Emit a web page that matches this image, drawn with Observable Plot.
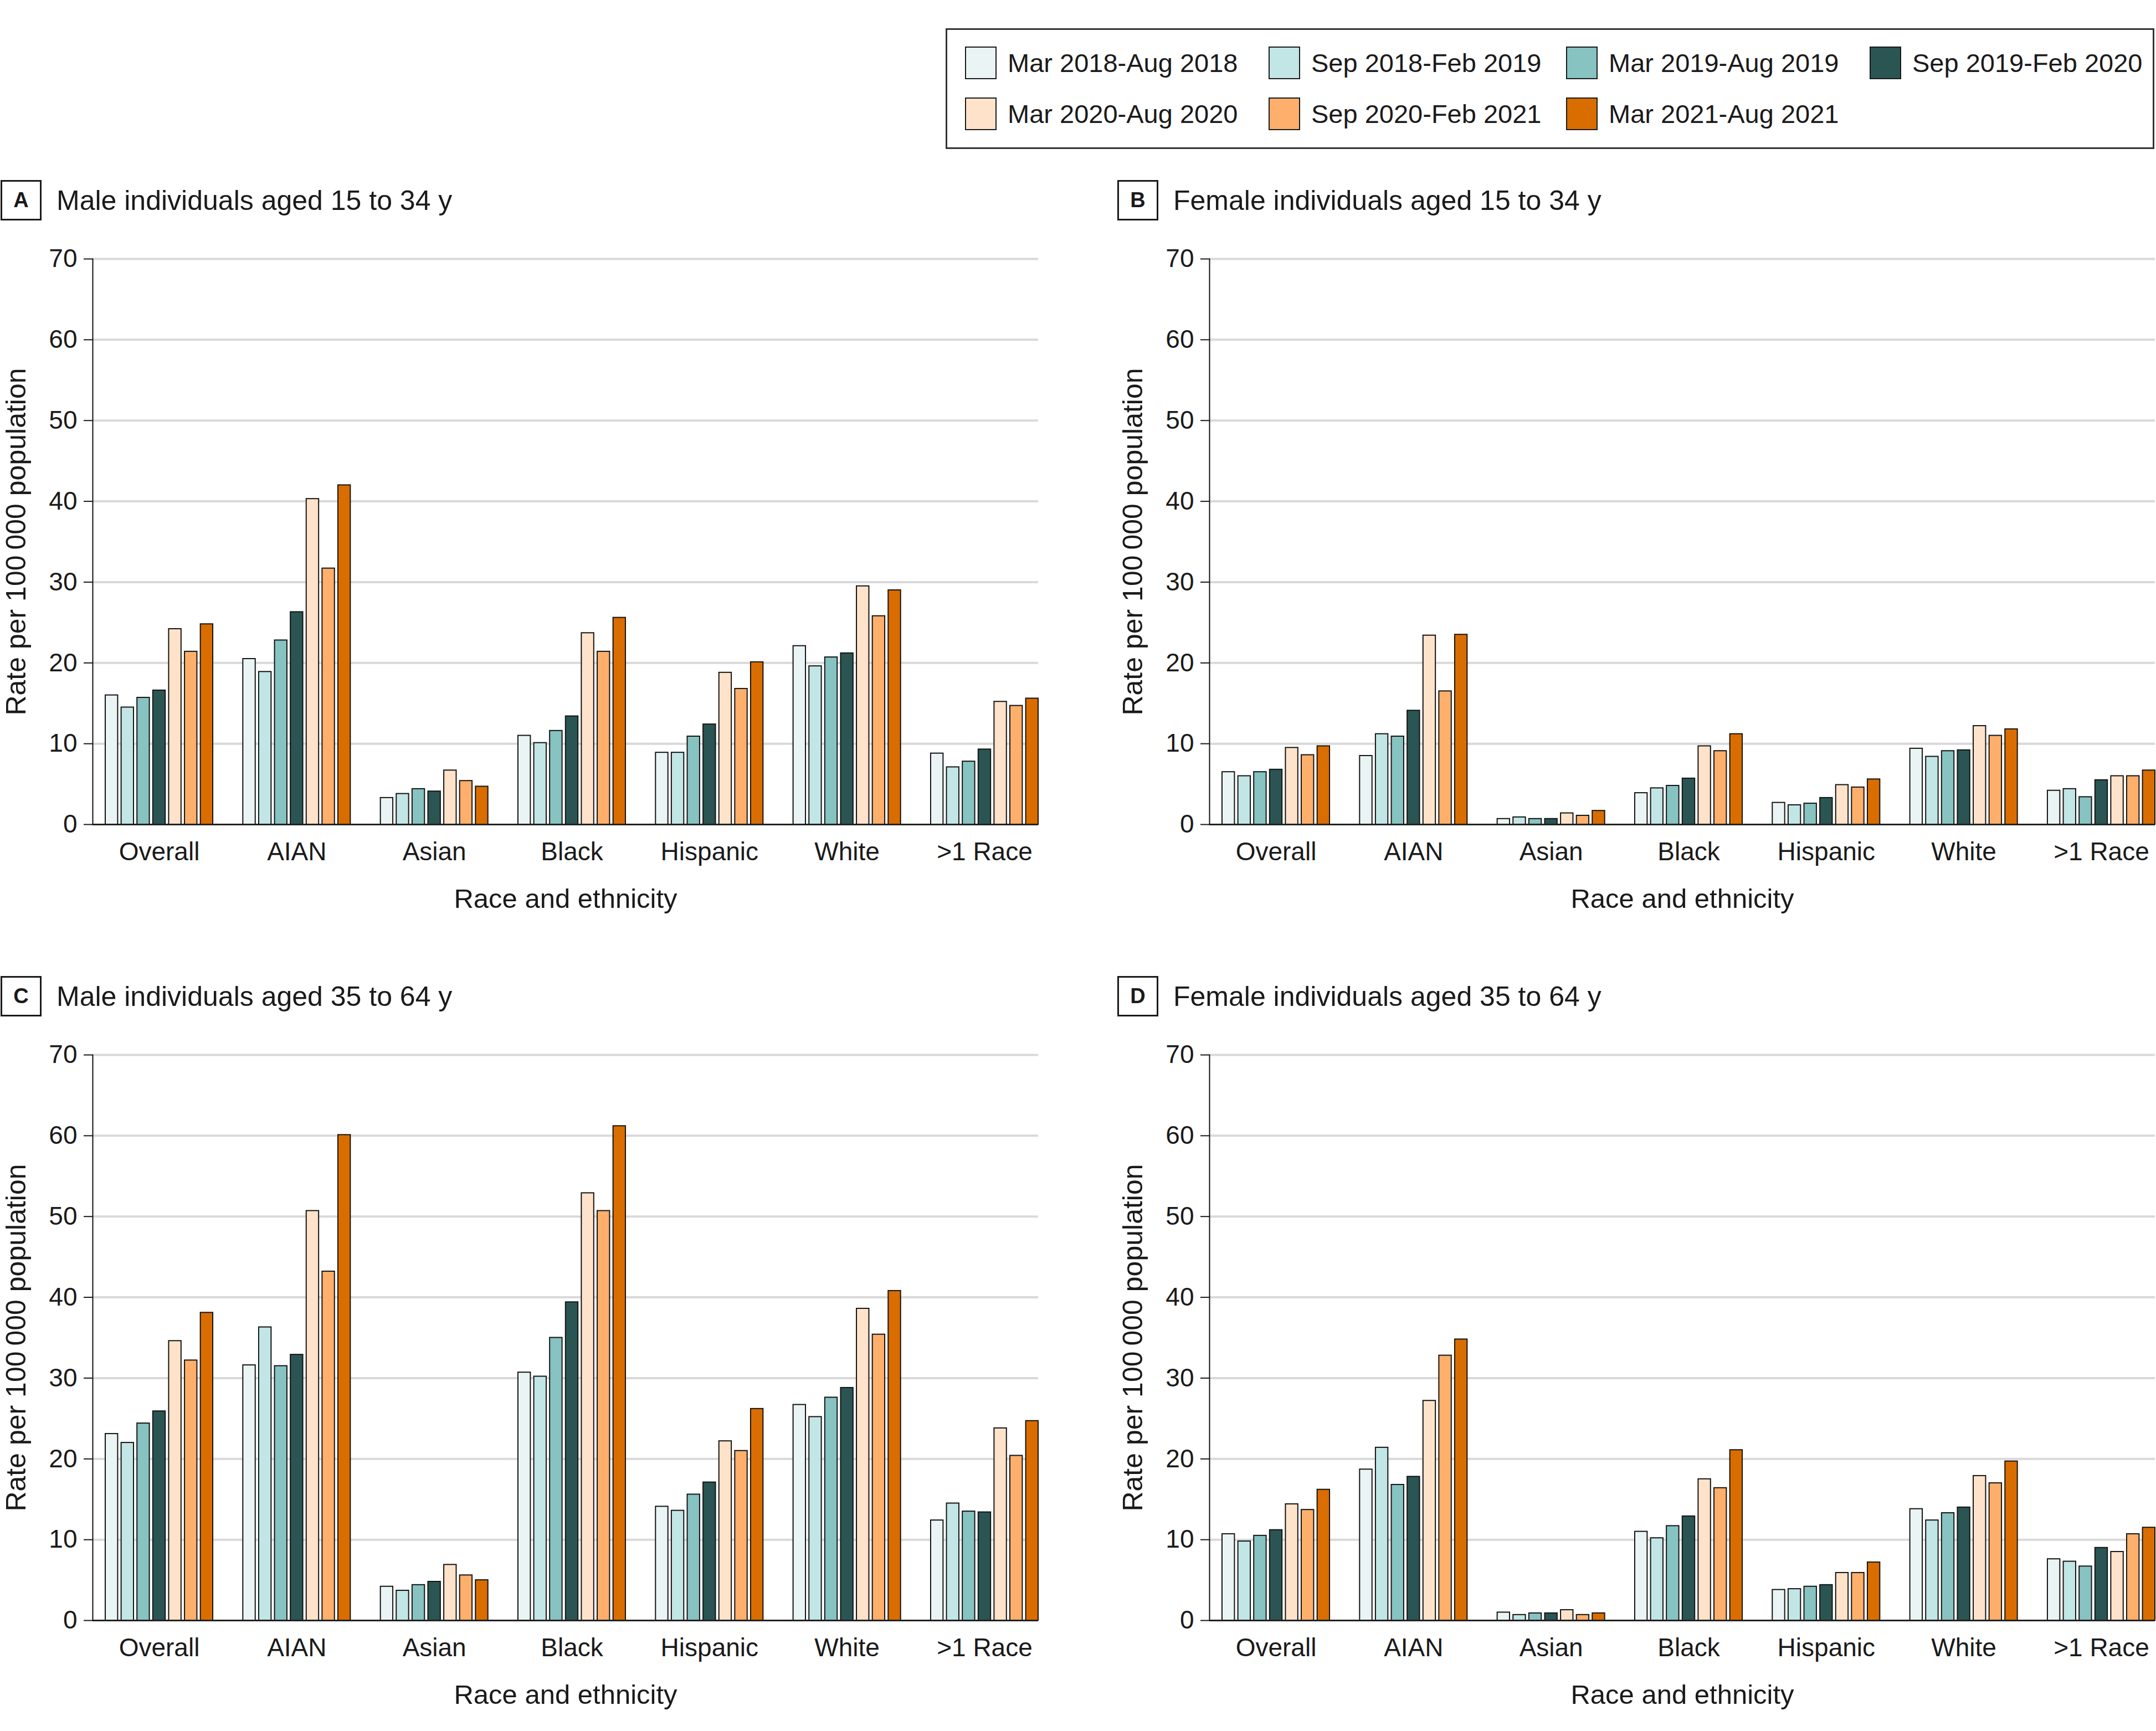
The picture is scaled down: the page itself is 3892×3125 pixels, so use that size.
<!DOCTYPE html>
<html><head><meta charset="utf-8">
<script src="https://cdn.jsdelivr.net/npm/d3@7"></script>
<script src="https://cdn.jsdelivr.net/npm/@observablehq/plot@0.6"></script>
<style>
body{margin:0;background:#fff;}
#root{position:relative;width:3892px;height:3125px;font-family:"Liberation Sans",Arial,sans-serif;color:#1a1a1a;background:#fff;overflow:hidden;}
.abs{position:absolute;}
.lbox{position:absolute;box-sizing:border-box;width:74px;height:73px;border:3px solid #1a1a1a;font-weight:bold;font-size:38px;display:flex;align-items:center;justify-content:center;}
.ptitle{position:absolute;font-size:50px;line-height:50px;white-space:nowrap;}
.legend{position:absolute;left:1707px;top:51px;width:2182px;height:218px;box-sizing:border-box;border:3px solid #333;}
.sw{position:absolute;width:57px;height:59px;box-sizing:border-box;border:2px solid #1a1a1a;}
.lt{position:absolute;font-size:47px;line-height:47px;white-space:nowrap;}
</style></head><body><div id="root"></div>
<script>
// ---- data ----
const groups = ["Overall", "AIAN", "Asian", "Black", "Hispanic", "White", ">1 Race"];
const periods = ["Mar 2018-Aug 2018", "Sep 2018-Feb 2019", "Mar 2019-Aug 2019", "Sep 2019-Feb 2020",
                 "Mar 2020-Aug 2020", "Sep 2020-Feb 2021", "Mar 2021-Aug 2021"];
const periodColors = ["#eaf4f4", "#c2e6e5", "#86c3c1", "#2a5553", "#fee3ca", "#fdaf6b", "#d96d00"];
const yTicks = [0, 10, 20, 30, 40, 50, 60, 70];
const yLabel = "Rate per 100\u2009000 population";
const xLabel = "Race and ethnicity";

const panelLetters = ["A", "B", "C", "D"];
const panelTitles = ["Male individuals aged 15 to 34 y", "Female individuals aged 15 to 34 y",
                     "Male individuals aged 35 to 64 y", "Female individuals aged 35 to 64 y"];

// values[group][period]
const maleYoung = [
  [16.0, 14.5, 15.7, 16.6, 24.2, 21.4, 24.8],
  [20.5, 18.9, 22.8, 26.3, 40.3, 31.7, 42.0],
  [3.3, 3.8, 4.4, 4.1, 6.7, 5.4, 4.7],
  [11.0, 10.1, 11.6, 13.4, 23.7, 21.4, 25.6],
  [8.9, 8.9, 10.9, 12.4, 18.8, 16.8, 20.1],
  [22.1, 19.6, 20.7, 21.2, 29.5, 25.8, 29.0],
  [8.8, 7.1, 7.8, 9.3, 15.2, 14.7, 15.6]
];
const femaleYoung = [
  [6.5, 6.0, 6.5, 6.8, 9.5, 8.6, 9.7],
  [8.5, 11.2, 10.9, 14.1, 23.4, 16.5, 23.5],
  [0.7, 0.9, 0.7, 0.7, 1.4, 1.1, 1.7],
  [3.9, 4.5, 4.8, 5.7, 9.7, 9.1, 11.2],
  [2.7, 2.4, 2.6, 3.3, 4.9, 4.6, 5.6],
  [9.4, 8.4, 9.1, 9.2, 12.2, 11.0, 11.8],
  [4.2, 4.4, 3.4, 5.5, 6.0, 6.0, 6.7]
];
const maleOld = [
  [23.1, 22.0, 24.4, 25.9, 34.6, 32.2, 38.1],
  [31.6, 36.3, 31.5, 32.9, 50.7, 43.2, 60.1],
  [4.2, 3.7, 4.4, 4.8, 6.9, 5.6, 5.0],
  [30.7, 30.2, 35.0, 39.4, 52.9, 50.7, 61.2],
  [14.1, 13.6, 15.6, 17.1, 22.2, 21.0, 26.2],
  [26.7, 25.2, 27.6, 28.8, 38.6, 35.4, 40.8],
  [12.4, 14.5, 13.5, 13.4, 23.8, 20.4, 24.7]
];
const femaleOld = [
  [10.7, 9.8, 10.5, 11.2, 14.4, 13.7, 16.2],
  [18.7, 21.4, 16.8, 17.8, 27.2, 32.8, 34.8],
  [1.0, 0.7, 0.9, 0.9, 1.3, 0.7, 0.9],
  [11.0, 10.2, 11.7, 12.9, 17.5, 16.4, 21.1],
  [3.8, 3.9, 4.2, 4.4, 5.9, 5.9, 7.2],
  [13.8, 12.4, 13.3, 14.0, 17.9, 17.0, 19.7],
  [7.6, 7.3, 6.7, 9.0, 8.5, 10.7, 11.5]
];
const panelValues = [maleYoung, femaleYoung, maleOld, femaleOld];

// ---- layout (in group units; one group = 1) ----
const BAR_STEP = 0.1152, BAR_W = 0.0902, LEFT_PAD = 0.0926;
const SPAN = (periods.length - 1) * BAR_STEP + BAR_W;
const FONT = '"Liberation Sans", Arial, sans-serif';
const panelPos = [[0, 420], [2016, 420], [0, 1857], [2016, 1857]];

function makePanel(values) {
  const rows = [];
  groups.forEach((g, gi) => periods.forEach((p, si) => {
    const x1 = gi + si * BAR_STEP;
    rows.push({group: g, period: p, value: values[gi][si], x1, x2: x1 + BAR_W});
  }));
  const centers = groups.map((g, i) => i + SPAN / 2);
  return Plot.plot({
    width: 1876, height: 1238,
    marginLeft: 167, marginRight: 2, marginTop: 47, marginBottom: 170,
    style: {fontFamily: FONT, fontSize: "46px", color: "#1a1a1a", background: "transparent", overflow: "visible"},
    x: {domain: [-LEFT_PAD, groups.length - 1 + SPAN]},
    y: {domain: [0, 70]},
    color: {domain: periods, range: periodColors},
    marks: [
      Plot.ruleY(yTicks.filter(d => d > 0), {stroke: "#d9d9d9", strokeWidth: 4}),
      Plot.rectY(rows, {x1: "x1", x2: "x2", y1: 0, y2: "value", fill: "period", stroke: "#141414", strokeWidth: 2}),
      Plot.ruleY([0], {stroke: "#222", strokeWidth: 3}),
      Plot.frame({anchor: "left", stroke: "#111", strokeWidth: 2}),
      Plot.axisY(yTicks, {tickSize: 16, tickPadding: 12, fontSize: 46, strokeWidth: 2, label: null}),
      Plot.axisY({ticks: [], tickSize: 0, fontSize: 50,
        label: yLabel, labelAnchor: "center", labelOffset: 157, labelArrow: "none"}),
      Plot.axisX(centers, {tickSize: 0, tickPadding: 32, fontSize: 46,
        tickFormat: d => groups[Math.round(d - SPAN / 2)], label: null}),
      Plot.axisX({ticks: [], tickSize: 0, fontSize: 49,
        label: xLabel, labelAnchor: "center", labelOffset: 150, labelArrow: "none"})
    ]
  });
}

const root = document.getElementById("root");

// legend
const legend = document.createElement("div");
legend.className = "legend";
root.appendChild(legend);
const legCols = [1742, 2290, 2827, 3375];
const legRows = [84, 176];
periods.forEach((p, i) => {
  const col = i % 4, row = Math.floor(i / 4);
  const sw = document.createElement("div");
  sw.className = "sw";
  sw.style.left = legCols[col] + "px";
  sw.style.top = legRows[row] + "px";
  sw.style.background = periodColors[i];
  root.appendChild(sw);
  const t = document.createElement("div");
  t.className = "lt";
  t.textContent = p;
  t.style.left = (legCols[col] + 77) + "px";
  t.style.top = (legRows[row] + 6) + "px";
  root.appendChild(t);
});

panelValues.forEach((vals, k) => {
  const [left, top] = panelPos[k];
  const box = document.createElement("div");
  box.className = "lbox";
  box.textContent = panelLetters[k];
  box.style.left = (left + 1) + "px";
  box.style.top = (top - 95) + "px";
  root.appendChild(box);
  const tt = document.createElement("div");
  tt.className = "ptitle";
  tt.textContent = panelTitles[k];
  tt.style.left = (left + 102) + "px";
  tt.style.top = (top - 83) + "px";
  root.appendChild(tt);
  const holder = document.createElement("div");
  holder.className = "abs";
  holder.style.left = left + "px";
  holder.style.top = top + "px";
  holder.appendChild(makePanel(vals));
  root.appendChild(holder);
});
</script></body></html>
